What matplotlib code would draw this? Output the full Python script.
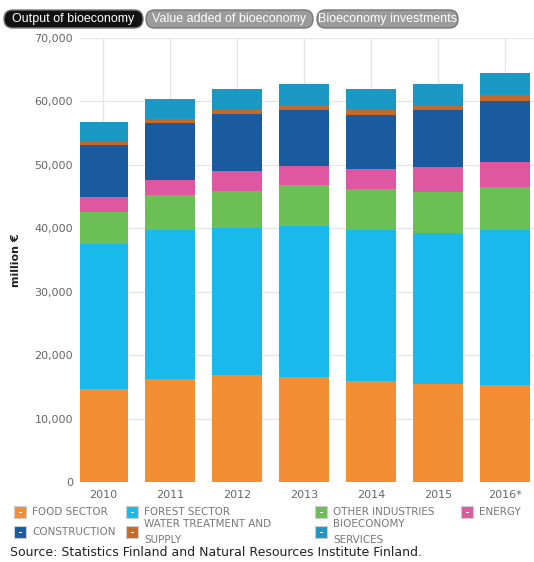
import matplotlib.pyplot as plt
from matplotlib.patches import FancyBboxPatch, Rectangle
import numpy as np

years = ["2010", "2011", "2012", "2013", "2014", "2015", "2016*"]

# million euros per sector, bottom of the stack first
food = [14700, 16200, 16800, 16600, 16000, 15400, 15300]
forest = [22900, 23500, 23200, 23800, 23700, 23900, 24500]
other_industries = [4900, 5500, 5900, 6400, 6500, 6400, 6700]
energy = [2400, 2400, 3100, 3000, 3100, 4000, 3900]
construction = [8200, 9000, 9000, 8900, 8600, 8900, 9700]
water = [500, 600, 600, 600, 700, 700, 900]
services = [3200, 3200, 3300, 3400, 3400, 3500, 3500]

series = [food, forest, other_industries, energy, construction, water, services]
names = ["FOOD SECTOR", "FOREST SECTOR", "OTHER INDUSTRIES", "ENERGY",
         "CONSTRUCTION", "WATER TREATMENT AND\nSUPPLY", "BIOECONOMY\nSERVICES"]
colors = ["#f48e34", "#1ab9ec", "#6cbf55", "#de57a0",
          "#1a5a9e", "#c56a28", "#1b98c3"]

tabs = ["Output of bioeconomy", "Value added of bioeconomy", "Bioeconomy investments"]

W, H = 534, 562
fig = plt.figure(figsize=(W / 100, H / 100), dpi=100)
ax = fig.add_axes([80 / W, 80 / H, 1 - 80 / W, 444 / H])

x = np.arange(len(years))
bottom = np.zeros(len(years))
for vals, c in zip(series, colors):
    ax.bar(x, vals, width=0.75, bottom=bottom, color=c, zorder=2)
    bottom += np.array(vals)

ax.set_ylim(0, 70000)
ax.set_xlim(-0.343, 6.43)
ax.set_yticks(range(0, 70001, 10000))
ax.set_yticklabels([f"{v:,}" for v in range(0, 70001, 10000)])
ax.set_xticks(x)
ax.set_xticklabels(years)
ax.tick_params(length=0, labelsize=8, colors="#666666")
ax.tick_params(axis="y", pad=5)
ax.tick_params(axis="x", pad=6)
ax.grid(True, color="#e6e6e6", linewidth=1, zorder=0)
ax.set_axisbelow(True)
for s in ax.spines.values():
    s.set_visible(False)
ax.set_ylabel("million €", fontsize=8, fontweight="bold", color="#222222", labelpad=10)


def fx(px):
    return px / W


def fy(py):
    return 1 - py / H


# tab buttons above the chart
tab_x = [(4, 143), (146, 313), (317, 458)]
for i, (label, (x0, x1)) in enumerate(zip(tabs, tab_x)):
    face = "#111111" if i == 0 else "#9b9b9b"
    fig.add_artist(FancyBboxPatch((fx(x0), fy(28)), fx(x1 - x0), 18 / H,
                                  boxstyle="round,pad=0,rounding_size=0.016",
                                  transform=fig.transFigure, facecolor=face,
                                  edgecolor="#777777", linewidth=1))
    fig.text(fx((x0 + x1) / 2), fy(19), label, ha="center", va="center",
             color="white", fontsize=9,
             family=["Liberation Sans Narrow", "Liberation Sans"])

# legend
leg_x = [14, 126, 315, 461, 14, 126, 315]
leg_y = [512, 512, 512, 512, 532, 532, 532]
for name, c, lx, ly in zip(names, colors, leg_x, leg_y):
    fig.add_artist(Rectangle((fx(lx), fy(ly + 6)), fx(12), 12 / H,
                             transform=fig.transFigure, facecolor=c,
                             edgecolor="#cccccc", linewidth=0.8))
    fig.add_artist(Rectangle((fx(lx + 4.5), fy(ly + 0.5)), fx(3), 1 / H,
                             transform=fig.transFigure, facecolor="white",
                             edgecolor="none"))
    fig.text(fx(lx + 18), fy(ly), name, ha="left", va="center",
             fontsize=7.5, color="#777777", linespacing=1.75)

fig.text(fx(10), fy(552), "Source: Statistics Finland and Natural Resources Institute Finland.",
         ha="left", va="center", fontsize=9, color="#222222")

fig.savefig("out.png", dpi=100)
